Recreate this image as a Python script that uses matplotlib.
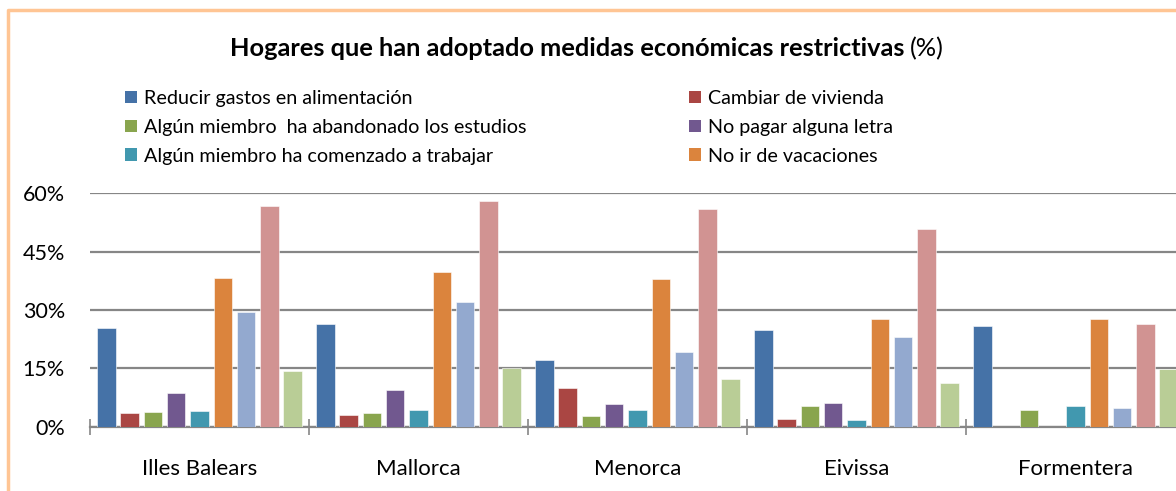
import numpy as np
import matplotlib.pyplot as plt
from matplotlib.lines import Line2D
from matplotlib.patches import Patch

plt.rcParams['font.family'] = ['Lato', 'DejaVu Sans']

islas = ['Illes Balears', 'Mallorca', 'Menorca', 'Eivissa', 'Formentera']

series = [
    'Reducir gastos en alimentación',
    'Cambiar de vivienda',
    'Algún miembro  ha abandonado los estudios',
    'No pagar alguna letra',
    'Algún miembro ha comenzado a trabajar',
    'No ir de vacaciones',
    'Serie 7',
    'Serie 8',
    'Serie 9',
]

# % por isla, una lista por serie
reducir_alimentacion = [25.3, 26.3, 17.1, 24.8, 25.9]
cambiar_vivienda = [3.4, 2.9, 9.9, 2.1, 0.0]
abandono_estudios = [3.8, 3.5, 2.7, 5.2, 4.3]
no_pagar_letra = [8.7, 9.4, 5.8, 6.0, 0.0]
empezar_trabajar = [4.1, 4.4, 4.3, 1.6, 5.2]
sin_vacaciones = [38.1, 39.8, 38.0, 27.8, 27.6]
serie7 = [29.6, 32.1, 19.2, 23.0, 4.8]
serie8 = [56.7, 58.0, 56.0, 50.7, 26.4]
serie9 = [14.4, 15.2, 12.3, 11.3, 14.8]

valores = [reducir_alimentacion, cambiar_vivienda, abandono_estudios, no_pagar_letra,
           empezar_trabajar, sin_vacaciones, serie7, serie8, serie9]

colores = ['#4572A7', '#AA4643', '#89A54E', '#71588F', '#4198AF',
           '#DB843D', '#93A9CF', '#D19392', '#B9CD96']

W, H = 1176, 491
fig = plt.figure(figsize=(W / 100, H / 100), dpi=100)
fig.patch.set_facecolor('white')

# area del grafico (se sale por la derecha, como en el original recortado)
ax = fig.add_axes([90 / W, (H - 426.7) / H, 1095 / W, (426.7 - 193.3) / H])

x = np.arange(len(islas))
paso = 0.1065
ancho = 0.085
for j, vals in enumerate(valores):
    ax.bar(x + (j - 4) * paso, vals, width=ancho, color=colores[j],
           edgecolor='white', linewidth=0.4, zorder=3)

ax.set_xlim(-0.5, 4.5)
ax.set_ylim(0, 60)
ax.set_yticks([0, 15, 30, 45, 60])
ax.set_yticklabels(['0%', '15%', '30%', '45%', '60%'], fontsize=15.5)
ax.yaxis.grid(True, color='#868686', linewidth=1.6, zorder=0)
ax.set_axisbelow(True)

# ticks en los limites de grupo, etiquetas centradas
ax.set_xticks(np.arange(-0.5, 5.0, 1.0))
ax.set_xticklabels([])
ax.set_xticks(x, minor=True)
ax.set_xticklabels(islas, minor=True, fontsize=16)
ax.tick_params(axis='x', which='major', direction='inout', length=11,
               width=1.2, color='#868686')
ax.tick_params(axis='x', which='minor', length=0, pad=23)
ax.tick_params(axis='y', length=0, pad=18)

for s in ['top', 'right', 'left']:
    ax.spines[s].set_visible(False)
ax.spines['bottom'].set_color('#868686')
ax.spines['bottom'].set_linewidth(1.6)

fig.text(905 / W, 1 - 49 / H,
         'Hogares que han adoptado medidas económicas restrictivas',
         ha='right', va='center', fontsize=18.3, fontweight='bold')
fig.text(910 / W, 1 - 49 / H, '(%)', ha='left', va='center', fontsize=18.3)

# leyenda en dos columnas
handles = [Patch(facecolor=c) for c in colores[:6]]
kw = dict(frameon=False, fontsize=14.2, handlelength=0.6, handleheight=0.6,
          handletextpad=0.35, labelspacing=0.6, borderaxespad=0, borderpad=0)
fig.legend([handles[i] for i in (0, 2, 4)], [series[i] for i in (0, 2, 4)],
           loc='upper left', bbox_to_anchor=(125 / W, 1 - 90 / H), **kw)
fig.legend([handles[i] for i in (1, 3, 5)], [series[i] for i in (1, 3, 5)],
           loc='upper left', bbox_to_anchor=(689 / W, 1 - 90 / H), **kw)

# borde naranja del cuadro del grafico
fig.add_artist(Line2D([8 / W, 8 / W, 1], [0, 1 - 10 / H, 1 - 10 / H],
                      transform=fig.transFigure, color='#FFC594', linewidth=2.5))

fig.savefig('out.png', dpi=100)
